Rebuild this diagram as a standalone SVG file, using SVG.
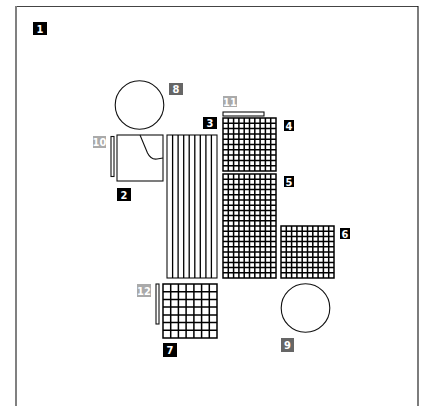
<svg xmlns="http://www.w3.org/2000/svg" width="437" height="406" viewBox="0 0 437 406">
<style>
.lbl text{font-family:"DejaVu Sans Condensed","DejaVu Sans",sans-serif;font-stretch:condensed;font-weight:bold;font-size:11px;fill:#fff;text-anchor:middle}
.blk{fill:#000}.mid{fill:#666}.lt{fill:#aaa}
.shape{fill:#fff;stroke:#111;stroke-width:1.1}
.grid{fill:none;stroke:#000;stroke-width:1.5}
.stripe{fill:none;stroke:#000;stroke-width:1.3}
</style>
<rect width="437" height="406" fill="#fff"/>
<g id="frame">
<line x1="16" y1="6.5" x2="418" y2="6.5" stroke="#444" stroke-width="1.2"/>
<line x1="16" y1="6" x2="16" y2="406" stroke="#808080" stroke-width="2"/>
<line x1="418" y1="6" x2="418" y2="406" stroke="#111" stroke-width="1.1"/>
</g>
<g id="node1" class="lbl"><rect class="blk" x="33" y="22" width="14" height="13"/><text x="40" y="32.5">1</text></g>
<g id="node8">
<circle class="shape" cx="139.5" cy="105" r="24.3"/>
<g class="lbl"><rect class="mid" x="169" y="83" width="14" height="12"/><text x="176" y="93">8</text></g>
</g>
<g id="node10">
<rect class="shape" x="111" y="136.5" width="3" height="40"/>
<g class="lbl"><rect class="lt" x="93" y="136" width="13" height="12"/><text x="99.5" y="146">10</text></g>
</g>
<g id="node2">
<rect class="shape" x="117" y="135" width="46" height="46"/>
<path d="M140,135 L147.5,153 Q151,160 157,159 L163,158" fill="none" stroke="#111" stroke-width="1.1"/>
<g class="lbl"><rect class="blk" x="117" y="188" width="14" height="13"/><text x="124" y="198.5">2</text></g>
</g>
<g id="node3">
<rect class="shape" x="167" y="135" width="50" height="143"/>
<path class="stripe" d="M172.6,135V278M178.1,135V278M183.7,135V278M189.2,135V278M194.8,135V278M200.3,135V278M205.9,135V278M211.4,135V278"/>
<g class="lbl"><rect class="blk" x="203" y="117" width="14" height="12"/><text x="210" y="127">3</text></g>
</g>
<g id="node11">
<rect class="shape" x="223" y="112" width="41" height="4"/>
<g class="lbl"><rect class="lt" x="223" y="96" width="14" height="11"/><text x="230" y="105.5">11</text></g>
</g>
<g id="node4">
<path class="grid" d="M223,118H276V171H223Z M228.3,118V171M233.6,118V171M238.9,118V171M244.2,118V171M249.5,118V171M254.8,118V171M260.1,118V171M265.4,118V171M270.7,118V171 M223,123.3H276M223,128.6H276M223,133.9H276M223,139.2H276M223,144.5H276M223,149.8H276M223,155.1H276M223,160.4H276M223,165.7H276"/>
<g class="lbl"><rect class="blk" x="284" y="120" width="10" height="11"/><text x="289" y="129.5">4</text></g>
</g>
<g id="node5">
<path class="grid" d="M223,174H276V278H223Z M228.3,174V278M233.6,174V278M238.9,174V278M244.2,174V278M249.5,174V278M254.8,174V278M260.1,174V278M265.4,174V278M270.7,174V278 M223,179.2H276M223,184.4H276M223,189.6H276M223,194.8H276M223,200H276M223,205.2H276M223,210.4H276M223,215.6H276M223,220.8H276M223,226H276M223,231.2H276M223,236.4H276M223,241.6H276M223,246.8H276M223,252H276M223,257.2H276M223,262.4H276M223,267.6H276M223,272.8H276"/>
<g class="lbl"><rect class="blk" x="284" y="176" width="10" height="11"/><text x="289" y="185.5">5</text></g>
</g>
<g id="node6">
<path class="grid" d="M281,226H334V278H281Z M286.3,226V278M291.6,226V278M296.9,226V278M302.2,226V278M307.5,226V278M312.8,226V278M318.1,226V278M323.4,226V278M328.7,226V278 M281,231.2H334M281,236.4H334M281,241.6H334M281,246.8H334M281,252H334M281,257.2H334M281,262.4H334M281,267.6H334M281,272.8H334"/>
<g class="lbl"><rect class="blk" x="340" y="228" width="10" height="11"/><text x="345" y="237.5">6</text></g>
</g>
<g id="node12">
<rect class="shape" x="156" y="284" width="3" height="40"/>
<g class="lbl"><rect class="lt" x="137" y="284" width="14" height="13"/><text x="144" y="294.5">12</text></g>
</g>
<g id="node7">
<path class="grid" d="M163,284H217V338H163Z M170.7,284V338M178.4,284V338M186.1,284V338M193.9,284V338M201.6,284V338M209.3,284V338 M163,291.7H217M163,299.4H217M163,307.1H217M163,314.9H217M163,322.6H217M163,330.3H217"/>
<g class="lbl"><rect class="blk" x="163" y="343" width="14" height="14"/><text x="170" y="354">7</text></g>
</g>
<g id="node9">
<circle class="shape" cx="305.5" cy="308" r="24.3"/>
<g class="lbl"><rect class="mid" x="281" y="338" width="13" height="14"/><text x="287.5" y="349">9</text></g>
</g>
</svg>
